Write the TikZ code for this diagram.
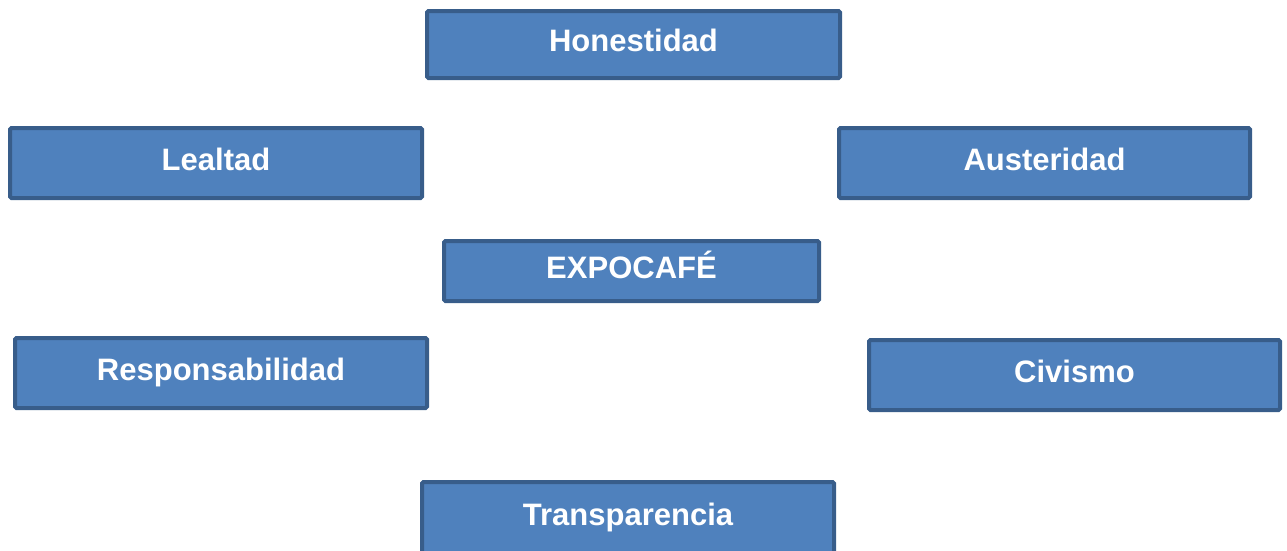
\documentclass[tikz,border=0pt]{standalone}
\usepackage{fontspec}
\setmainfont{Liberation Sans}
\definecolor{boxfill}{HTML}{4F81BD}
\definecolor{boxline}{HTML}{385D8A}
\tikzset{
  valuebox/.style={draw=boxline, fill=boxfill, line width=4pt, rounded corners=1.5pt,
    inner sep=0pt, text=white, font=\fontsize{31}{37}\selectfont\bfseries,
    text height=22pt, text depth=8pt, align=center}
}
\begin{document}
\begin{tikzpicture}[x=1pt,y=-1pt]
\useasboundingbox (0,0) rectangle (1287,550);
\node[valuebox, minimum width=413pt, minimum height=67pt] (hon) at (633.5,44.5) {Honestidad};
\node[valuebox, minimum width=412pt, minimum height=70pt] (lea) at (216,163) {Lealtad};
\node[valuebox, minimum width=411pt, minimum height=70pt] (aus) at (1044.5,163) {Austeridad};
\node[valuebox, minimum width=375pt, minimum height=60pt] (exp) at (631.5,271) {EXPOCAFÉ};
\node[valuebox, minimum width=412pt, minimum height=70pt] (res) at (221,373) {Responsabilidad};
\node[valuebox, minimum width=411pt, minimum height=70pt] (civ) at (1074.5,375) {Civismo};
\node[valuebox, minimum width=412pt, minimum height=72pt] (tra) at (628,518) {Transparencia};
\end{tikzpicture}
\end{document}
